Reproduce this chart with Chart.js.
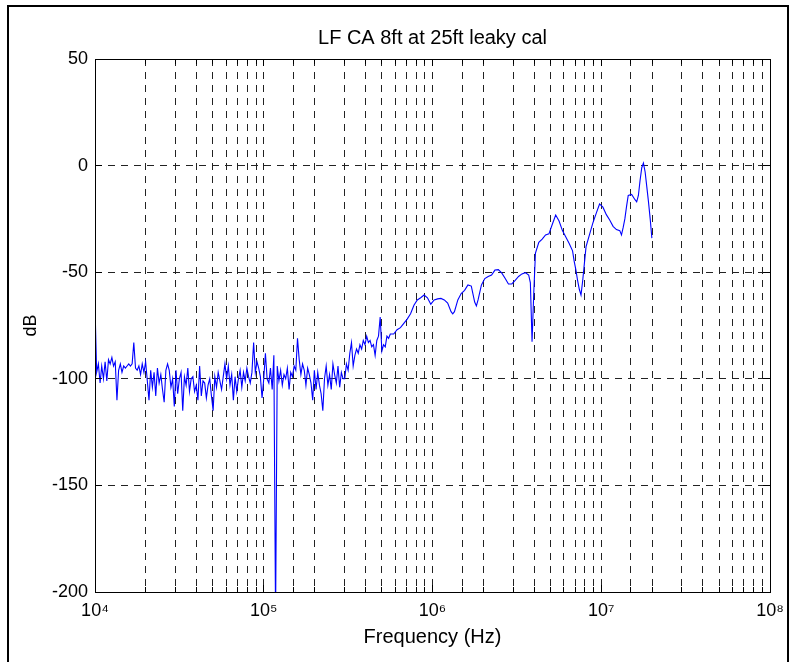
<!DOCTYPE html>
<html>
<head>
<meta charset="utf-8">
<title>LF CA 8ft at 25ft leaky cal</title>
<script src="https://cdn.jsdelivr.net/npm/chart.js@4.4.1/dist/chart.umd.min.js"></script>
<style>
  html, body { margin: 0; padding: 0; background: #fff; }
  canvas { display: block; }
</style>
</head>
<body>
<canvas id="chart" width="793" height="662"></canvas>
<script>
// sweep frequencies (Hz)
const freqHz = [
  10000, 10230, 10470, 10720, 10960, 11220, 11480, 11750, 12020, 12300,
  12590, 12880, 13180, 13490, 13800, 14130, 14450, 14790, 15140, 15490,
  15850, 16220, 16600, 16980, 17380, 17780, 18200, 18620, 19050, 19500,
  19950, 20420, 20890, 21380, 21880, 22390, 22910, 23440, 23990, 24550,
  25120, 25700, 26300, 26920, 27540, 28180, 28840, 29510, 30200, 30900,
  31620, 32360, 33110, 33880, 34670, 35480, 36310, 37150, 38020, 38900,
  39810, 40740, 41690, 42660, 43650, 44670, 45710, 46770, 47860, 48980,
  50120, 51290, 52480, 53700, 54950, 56230, 57540, 58880, 60260, 61660,
  63100, 64570, 66070, 67610, 69180, 70790, 72440, 74130, 75860, 77620,
  79430, 81280, 83180, 85110, 87100, 89130, 91200, 93330, 95500, 97720,
  100000, 102300, 104700, 107200, 109600, 112200, 114800, 117500, 120200, 123000,
  125900, 128800, 131800, 134900, 138000, 141300, 144500, 147900, 151400, 154900,
  158500, 162200, 166000, 169800, 173800, 177800, 182000, 186200, 190500, 195000,
  199500, 204200, 208900, 213800, 218800, 223900, 229100, 234400, 239900, 245500,
  251200, 257000, 263000, 269200, 275400, 281800, 288400, 295100, 302000, 309000,
  316200, 323600, 331100, 338800, 346700, 354800, 363100, 371500, 380200, 389000,
  398100, 407400, 416900, 426600, 436500, 446700, 457100, 467700, 478600, 489800,
  501200, 512900, 524800, 537000, 549500, 562300,
  588800, 616600, 645700, 676100, 707900, 741300, 776200, 812800, 851100, 891300,
  933300, 977200, 1023000, 1072000, 1122000, 1175000, 1230000, 1288000, 1318000, 1349000,
  1413000, 1479000, 1549000, 1622000, 1698000, 1778000, 1820000, 1862000, 1950000, 2042000,
  2138000, 2239000, 2344000, 2455000, 2570000, 2692000, 2818000, 2951000, 3090000, 3236000,
  3388000, 3548000, 3715000, 3802000, 3890000, 3981000, 4074000, 4266000, 4467000, 4677000,
  4898000, 5129000, 5370000, 5623000, 5888000, 6166000, 6457000, 6761000, 6918000, 7079000,
  7244000, 7413000, 7586000, 7762000, 7943000, 8128000, 8511000, 8913000, 9333000, 9772000,
  10230000, 10720000, 11220000, 11750000, 12300000, 12880000, 13180000, 13490000, 13800000, 14130000,
  14450000, 15140000, 15850000, 16220000, 16600000, 16980000, 17380000, 17780000, 18200000, 18620000,
  19050000, 19500000, 19950000
];

// measured level (dB)
const levelDb = [
  -66, -97, -93, -102, -94, -100, -92, -101, -91, -93,
  -90, -94, -92, -110, -96, -93, -97, -94, -95, -94,
  -93, -94, -93, -83, -95, -96, -94, -98, -93, -97,
  -92, -101, -110, -96, -104, -97, -108, -95, -102, -98,
  -105, -111, -96, -93, -96, -104, -100, -113, -96, -107,
  -100, -97, -115, -99, -103, -95, -106, -100, -99, -106,
  -103, -110, -94, -108, -101, -102, -109, -103, -100, -108,
  -115, -99, -104, -97, -101, -105, -99, -93, -100, -94,
  -103, -98, -110, -99, -106, -100, -96, -104, -97, -101,
  -95, -99, -102, -97, -83, -97, -92, -95, -99, -109,
  -100, -88, -100, -102, -95, -105, -89, -212, -94, -101,
  -96, -103, -98, -100, -95, -105, -97, -99, -94, -96,
  -81, -91, -98, -93, -96, -103, -95, -98, -102, -110,
  -96, -105, -97, -103, -107, -115, -100, -94, -103, -98,
  -105, -93, -98, -102, -94, -104, -97, -100, -100, -93,
  -96, -88, -83, -94, -89, -86, -88, -84, -86, -82,
  -84, -80, -83, -82, -85, -84, -89, -82, -80, -71,
  -87, -84, -85, -80, -81, -79,
  -79, -77, -76, -74, -72, -69.5, -65.5, -63, -62, -60.7,
  -62, -65, -63, -62.5, -62.3, -63, -64.5, -68.5, -69.5, -68.5,
  -63, -60, -58.5, -56, -56.5, -64, -65.8, -63, -56, -53,
  -52, -51.3, -49, -48.8, -50.3, -52.8, -55.5, -55.5, -53.8, -52,
  -50.8, -50.2, -51.3, -55, -82.6, -60, -41, -36, -34.5, -32.5,
  -32, -27.5, -23.2, -26, -30.5, -33.5, -36.5, -40, -45, -49,
  -54, -58, -60.7, -54, -46, -38, -32.5, -27, -22.4, -18,
  -19.5, -23, -25.5, -28.5, -30, -30.5, -32.5, -29, -25, -19,
  -14, -13.5, -16, -17, -14, -7, -1, 1.2, -3, -10,
  -17, -25, -34
];

const yTicks = [-200, -150, -100, -50, 0, 50];
const xDecades = [1e4, 1e5, 1e6, 1e7, 1e8];
const supDigits = { 4: '\u2074', 5: '\u2075', 6: '\u2076', 7: '\u2077', 8: '\u2078' };

const font = 'Liberation Sans, Arial, sans-serif';
const align = p => Math.round(p - 0.5) + 0.5;

// white page + figure frame
const framePlugin = {
  id: 'frame',
  beforeDraw(chart) {
    const ctx = chart.ctx;
    ctx.save();
    ctx.fillStyle = '#fff';
    ctx.fillRect(0, 0, chart.width, chart.height);
    ctx.strokeStyle = '#000';
    ctx.lineWidth = 2;
    ctx.strokeRect(8, 6, 780, 700);
    ctx.restore();
  }
};

// matlab style box with inward ticks
const boxPlugin = {
  id: 'box',
  afterDatasetsDraw(chart) {
    const { ctx, chartArea: a, scales: { x, y } } = chart;
    ctx.save();
    ctx.strokeStyle = '#000';
    ctx.lineWidth = 1;
    ctx.setLineDash([]);
    ctx.beginPath();
    x.ticks.forEach(t => {
      const px = align(x.getPixelForValue(t.value));
      const len = xDecades.includes(t.value) ? 7 : 5;
      ctx.moveTo(px, a.bottom); ctx.lineTo(px, a.bottom - len);
      ctx.moveTo(px, a.top); ctx.lineTo(px, a.top + len);
    });
    y.ticks.forEach(t => {
      const py = align(y.getPixelForValue(t.value));
      ctx.moveTo(a.left, py); ctx.lineTo(a.left + 7, py);
      ctx.moveTo(a.right, py); ctx.lineTo(a.right - 7, py);
    });
    ctx.stroke();
    ctx.strokeRect(align(a.left), align(a.top), Math.round(a.right - a.left), Math.round(a.bottom - a.top));
    ctx.restore();
  }
};

new Chart(document.getElementById('chart'), {
  type: 'line',
  data: {
    datasets: [{
      data: freqHz.map((f, i) => ({ x: f, y: levelDb[i] })),
      borderColor: '#0000ff',
      borderWidth: 1.1,
      pointRadius: 0,
      tension: 0,
      fill: false
    }]
  },
  options: {
    responsive: false,
    animation: false,
    devicePixelRatio: 1,
    layout: { padding: { left: 0, right: 23, top: 0, bottom: 0 } },
    plugins: {
      legend: { display: false },
      tooltip: { enabled: false },
      title: {
        display: true,
        fullSize: false,
        text: 'LF CA 8ft at 25ft leaky cal',
        color: '#000',
        font: { family: font, size: 20, weight: 'normal', lineHeight: 1 },
        padding: { top: 28, bottom: 11 }
      }
    },
    scales: {
      x: {
        type: 'logarithmic',
        min: 1e4,
        max: 1e8,
        afterFit: s => { s.height = 70; },
        border: { display: false, dash: [7, 6] },
        grid: { color: '#222', lineWidth: 1, drawTicks: false },
        ticks: {
          autoSkip: false,
          maxRotation: 0,
          padding: 8,
          color: '#000',
          font: { family: font, size: 18 },
          callback: v => {
            const e = Math.round(Math.log10(v));
            return xDecades.includes(v) ? '10' + supDigits[e] : '';
          }
        },
        title: {
          display: true,
          text: 'Frequency (Hz)',
          color: '#000',
          font: { family: font, size: 20 },
          padding: { top: 0, bottom: 13 }
        }
      },
      y: {
        min: -200,
        max: 50,
        afterFit: s => { s.width = 95; },
        afterBuildTicks: s => { s.ticks = yTicks.map(v => ({ value: v })); },
        border: { display: false, dash: [7, 6] },
        grid: { color: '#222', lineWidth: 1, drawTicks: false },
        ticks: {
          padding: 7,
          color: '#000',
          font: { family: font, size: 18 }
        },
        title: {
          display: true,
          text: 'dB',
          color: '#000',
          font: { family: font, size: 18 },
          padding: { top: 20, bottom: 0 }
        }
      }
    }
  },
  plugins: [framePlugin, boxPlugin]
});
</script>
</body>
</html>
